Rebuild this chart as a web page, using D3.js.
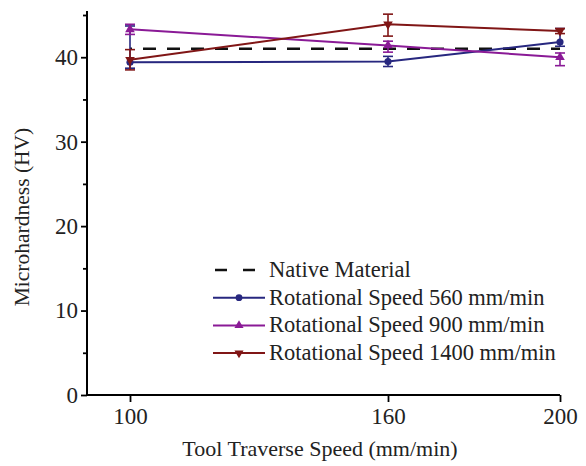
<!DOCTYPE html>
<html><head><meta charset="utf-8">
<script src="https://cdn.jsdelivr.net/npm/d3@7"></script>
<style>body{margin:0;background:#fff}svg{display:block}</style>
</head><body>
<svg id="c" width="586" height="466"></svg>
<script>
const speeds = [100, 160, 200];
const xTicks = [100, 160, 200];
const yTicks = [0, 10, 20, 30, 40];
const nativeValue = 41.0;
const s560 = [39.4, 39.5, 41.8];
const s560ErrUp = [4.3, 0.6, 1.6];
const s560ErrDown = [0.7, 0.6, 0.5];
const s900 = [43.3, 41.4, 40.0];
const s900ErrUp = [0.6, 0.5, 0.5];
const s900ErrDown = [0.6, 0.8, 1.0];
const s1400 = [39.7, 43.9, 43.1];
const s1400ErrUp = [1.2, 1.2, 0.3];
const s1400ErrDown = [1.2, 1.4, 0.3];
const legendLabels = ["Native Material", "Rotational Speed 560 mm/min", "Rotational Speed 900 mm/min", "Rotational Speed 1400 mm/min"];

const series = [
  {vals: s560, up: s560ErrUp, dn: s560ErrDown, color: "#27277f", sym: d3.symbolCircle},
  {vals: s900, up: s900ErrUp, dn: s900ErrDown, color: "#8a1a96", sym: d3.symbolTriangle},
  {vals: s1400, up: s1400ErrUp, dn: s1400ErrDown, color: "#801616", sym: "down"}
];

const svg = d3.select("#c");
const font = "'Liberation Serif','Times New Roman',serif";
const x = d3.scaleLinear().domain([90, 200]).range([87, 560]);
const y = d3.scaleLinear().domain([0, 45]).range([395, 15]);

// axes
const gx = svg.append("g").attr("transform", `translate(0,${y(0)})`)
  .call(d3.axisBottom(x).tickValues(xTicks).tickSize(7).tickPadding(6).tickFormat(d3.format("d")));
const gy = svg.append("g").attr("transform", `translate(${x(90)},0)`)
  .call(d3.axisLeft(y).tickValues(yTicks).tickSize(6).tickPadding(3).tickFormat(d3.format("d")));
// minor y ticks
svg.append("g").attr("transform", `translate(${x(90)},0)`)
  .call(d3.axisLeft(y).tickValues([5, 15, 25, 35, 45]).tickSize(4).tickFormat(""))
  .call(g => g.select(".domain").remove());
svg.selectAll(".domain").attr("stroke", "#000").attr("stroke-width", 2);
svg.selectAll(".tick line").attr("stroke", "#000").attr("stroke-width", 1.8);
gy.select(".domain").attr("d", `M-0,${y(0)}V${y(45)-4}`);
gx.select(".domain").attr("d", `M0,0H${x(200)-x(90)}`).attr("transform", `translate(${x(90)},0)`);
svg.selectAll(".tick text").attr("font-family", font).attr("font-size", 23).attr("fill", "#222");

// axis titles
svg.append("text").attr("x", 320).attr("y", 456).attr("text-anchor", "middle")
  .attr("font-family", font).attr("font-size", 22).attr("fill", "#222").text("Tool Traverse Speed (mm/min)");
svg.append("text").attr("transform", `translate(29,217) rotate(-90)`).attr("text-anchor", "middle")
  .attr("font-family", font).attr("font-size", 21.5).attr("fill", "#222").text("Microhardness (HV)");

// native dashed
svg.append("line").attr("x1", x(100)).attr("x2", x(200)).attr("y1", y(nativeValue)).attr("y2", y(nativeValue))
  .attr("stroke", "#111").attr("stroke-width", 2.4).attr("stroke-dasharray", "13,11").attr("stroke-dashoffset", -13);

function marker(sel, s, size) {
  const t = s.sym === "down" ? d3.symbol(d3.symbolTriangle, size) : d3.symbol(s.sym, size);
  sel.append("path").attr("d", t()).attr("fill", s.color)
    .attr("transform", s.sym === "down" ? "rotate(180)" : null);
}

series.forEach(s => {
  const pts = speeds.map((sp, i) => ({x: sp, v: s.vals[i], up: s.up[i], dn: s.dn[i]}));
  svg.append("path").datum(pts).attr("fill", "none").attr("stroke", s.color).attr("stroke-width", 2)
    .attr("d", d3.line().x(d => x(d.x)).y(d => y(d.v)));
  const eb = svg.append("g").selectAll("g").data(pts).join("g");
  eb.append("line").attr("x1", d => x(d.x)).attr("x2", d => x(d.x))
    .attr("y1", d => y(d.v + d.up)).attr("y2", d => y(d.v - d.dn)).attr("stroke", s.color).attr("stroke-width", 1.6);
  eb.append("line").attr("x1", d => x(d.x) - 5).attr("x2", d => x(d.x) + 5)
    .attr("y1", d => y(d.v + d.up)).attr("y2", d => y(d.v + d.up)).attr("stroke", s.color).attr("stroke-width", 1.6);
  eb.append("line").attr("x1", d => x(d.x) - 5).attr("x2", d => x(d.x) + 5)
    .attr("y1", d => y(d.v - d.dn)).attr("y2", d => y(d.v - d.dn)).attr("stroke", s.color).attr("stroke-width", 1.6);
  pts.forEach(d => {
    const g = svg.append("g").attr("transform", `translate(${x(d.x)},${y(d.v)})`);
    marker(g, s, 40);
  });
});

// legend
const lg = svg.append("g");
const lx0 = 213, lx1 = 265, ly0 = 270, ldy = 27.7;
legendLabels.forEach((lab, i) => {
  const yy = ly0 + i * ldy;
  if (i === 0) {
    lg.append("line").attr("x1", lx0).attr("x2", lx1).attr("y1", yy).attr("y2", yy)
      .attr("stroke", "#111").attr("stroke-width", 2.4).attr("stroke-dasharray", "12,16").attr("stroke-dashoffset", -2);
  } else {
    const s = series[i - 1];
    lg.append("line").attr("x1", lx0).attr("x2", lx1).attr("y1", yy).attr("y2", yy)
      .attr("stroke", s.color).attr("stroke-width", 2);
    marker(lg.append("g").attr("transform", `translate(${(lx0 + lx1) / 2},${yy})`), s, 36);
  }
  lg.append("text").attr("x", lx1 + 4).attr("y", yy + 7).attr("font-family", font).attr("font-size", 22.5)
    .attr("fill", "#222").text(lab);
});
</script>
</body></html>
